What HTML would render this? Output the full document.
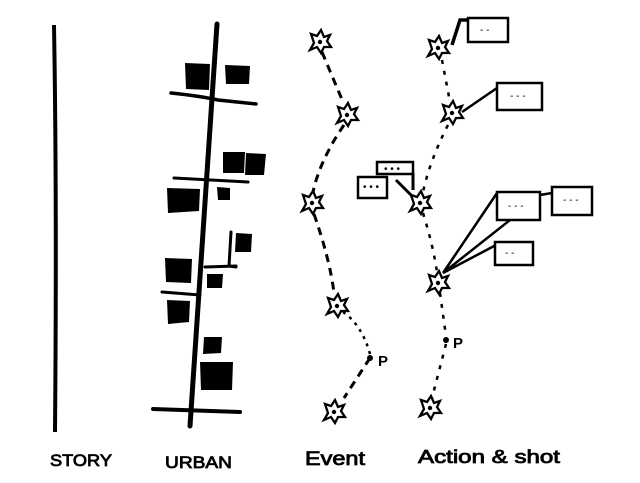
<!DOCTYPE html>
<html><head><style>
html,body{margin:0;padding:0;background:#fff;}
svg{display:block}
text{font-family:"Liberation Sans",sans-serif;fill:#000;}
</style></head><body>
<svg width="640" height="483" viewBox="0 0 640 483" xmlns="http://www.w3.org/2000/svg">
<defs>
<g id="st"><path d="M-9,-8 L-3,-6 L1,-12 L4,-5 L10,-7 L7,-1 L11,5 L4,5 L1,11 L-3,5 L-10,8 L-6,1 Z" fill="none" stroke="#000" stroke-width="2.3"/><circle r="2.2" fill="#000"/></g>
</defs>
<path d="M54,25 Q57,200 55,432" stroke="#000" stroke-width="4" fill="none"/>
<g stroke="#000" fill="none" stroke-linecap="round">
<path d="M217,24 L190,426" stroke-width="5"/>
<path d="M171,93 Q200,96 218,100 L256,104" stroke-width="3.5"/>
<path d="M174,178 L248,182" stroke-width="3"/>
<path d="M231,232 L229,266 L236,267" stroke-width="3"/>
<path d="M205,267 L236,266" stroke-width="3"/>
<path d="M162,292 L200,295" stroke-width="3"/>
<path d="M153,409 L240,412" stroke-width="4"/>
</g>
<g fill="#000">
<polygon points="185,63 210,64 209,90 186,89"/>
<polygon points="225,65 250,66 249,84 226,84"/>
<polygon points="223,152 245,152 244,173 223,173"/>
<polygon points="246,153 266,154 264,175 245,175"/>
<polygon points="167,188 200,189 199,211 168,213"/>
<polygon points="217,187 230,188 230,200 218,200"/>
<polygon points="236,233 252,234 251,252 235,252"/>
<polygon points="165,258 192,259 191,283 166,282"/>
<polygon points="207,274 223,274 222,288 207,288"/>
<polygon points="167,300 190,301 189,322 168,324"/>
<polygon points="204,337 222,337 221,353 203,354"/>
<polygon points="200,362 233,362 232,390 201,390"/>
</g>
<g stroke="#000" fill="none" stroke-width="3" stroke-dasharray="8,6">
<path d="M322,52 L343,102"/>
<path d="M344,125 Q320,160 313,192"/>
<path d="M314,214 Q330,260 334,293"/>
<path d="M370,358 L344,398"/>
</g>
<path d="M343,312 Q362,325 370,354" stroke="#000" stroke-width="2.5" fill="none" stroke-dasharray="3,5"/>
<circle cx="370" cy="358" r="3" fill="#000"/>
<text x="378" y="366" font-size="15" font-weight="bold">P</text>
<use href="#st" x="320" y="42"/>
<use href="#st" x="347" y="115"/>
<use href="#st" x="312" y="203"/>
<use href="#st" x="337" y="306"/>
<use href="#st" x="334" y="412"/>
<g stroke="#000" fill="none" stroke-width="2.5" stroke-dasharray="4,7">
<path d="M442,60 L450,102"/>
<path d="M448,125 Q430,160 423,192"/>
<path d="M423,213 Q433,245 437,272"/>
<path d="M440,293 L446,336"/>
<path d="M446,344 L432,398"/>
</g>
<circle cx="446" cy="340" r="3" fill="#000"/>
<text x="453" y="348" font-size="15" font-weight="bold">P</text>
<use href="#st" x="438" y="48"/>
<use href="#st" x="452" y="113"/>
<use href="#st" x="420" y="203"/>
<use href="#st" x="438" y="283"/>
<use href="#st" x="430" y="408"/>
<g stroke="#000" fill="#fff" stroke-width="2.5">
<path d="M452,45 L460,20 L468,20" fill="none" stroke-width="3.5"/>
<rect x="468" y="18" width="40" height="24"/>
<path d="M462,112 L497,88" fill="none"/>
<rect x="497" y="83" width="45" height="27"/>
<path d="M412,196 L396,180 M413,173 L413,190" fill="none" stroke-width="3"/>
<rect x="377" y="162" width="36" height="12"/>
<rect x="358" y="177" width="29" height="21"/>
<path d="M443,273 L497,193 M443,273 L510,220 M443,273 L496,245 M540,195 L552,193" fill="none"/>
<rect x="497" y="192" width="43" height="28"/>
<rect x="552" y="187" width="40" height="28"/>
<rect x="495" y="242" width="38" height="23"/>
</g>
<g fill="#000" font-size="10">
<text x="480" y="33">- -</text>
<text x="510" y="99">- - -</text>
<text x="384" y="172">• • •</text>
<text x="363" y="190">• • •</text>
<text x="508" y="209">- - -</text>
<text x="563" y="203">- - -</text>
<text x="505" y="256">- -</text>
</g>
<g font-size="18" stroke="#000" stroke-width="0.8">
<text x="50" y="466" font-size="17" textLength="62" lengthAdjust="spacingAndGlyphs">STORY</text>
<text x="165" y="468" font-size="17" textLength="67" lengthAdjust="spacingAndGlyphs">URBAN</text>
<text x="305" y="465" font-size="19" textLength="60" lengthAdjust="spacingAndGlyphs">Event</text>
<text x="418" y="463" font-size="18" textLength="142" lengthAdjust="spacingAndGlyphs">Action &amp; shot</text>
</g>
</svg>
</body></html>
